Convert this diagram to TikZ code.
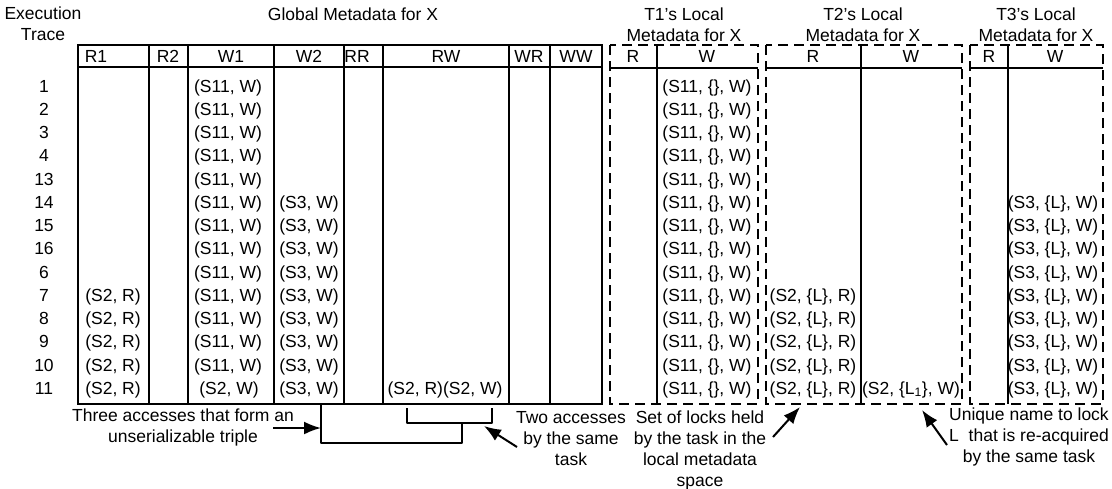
\documentclass[tikz,border=0pt]{standalone}
\usepackage{fontspec}
\setmainfont{Liberation Sans}
\usetikzlibrary{arrows.meta}

\begin{document}
\begin{tikzpicture}[x=1pt,y=-1pt,
    txt/.style={inner sep=0pt,font=\fontsize{17.5}{21}\selectfont,align=center},
    gras/.style={line width=2.4pt},
    fin/.style={line width=1.3pt},
    tiret/.style={line width=2.8pt,dash pattern=on 10pt off 6pt},
    fleche/.style={line width=2pt,-{Latex[length=17pt,width=13pt]}},
    crochet/.style={line width=2pt,line join=round}]
\useasboundingbox (0,0) rectangle (1112,488);

% Titres
\node[txt] (trace) at (43,24) {Execution\\Trace};
\node[txt] (globale) at (353,14) {Global Metadata for X};
\node[txt] (locT1) at (684,25) {T1's Local\\Metadata for X};
\node[txt] (locT2) at (863,25) {T2's Local\\Metadata for X};
\node[txt] (locT3) at (1036,25) {T3's Local\\Metadata for X};

% Tableau global
\draw[gras] (78,45) rectangle (602,404);
\draw[gras] (78,67) -- (602,67);
\foreach \x in {149,188,274,344,383,509,550} {
    \draw[fin] (\x,45) -- (\x,404);
}

% Tableaux locaux (pointilles)
\draw[tiret] (610,45) rectangle (758,404);
\draw[tiret] (766,45) rectangle (962,404);
\draw[tiret] (970,45) rectangle (1103,404);
\draw[gras] (610,68) -- (758,68);
\draw[gras] (766,68) -- (962,68);
\draw[gras] (970,68) -- (1103,68);
\foreach \x in {657,861,1008} {
    \draw[fin] (\x,45) -- (\x,404);
}

% En-tetes des colonnes
\foreach \x/\t [count=\k] in {96/R1,168/R2,231/W1,309/W2,357/RR,446/RW,529/WR,576/WW,
                              633/R,707/W,813/R,911/W,989/R,1055/W} {
    \node[txt,anchor=base] (tete\k) at (\x,62) {\t};
}

% Lignes de la trace
\foreach \lab [count=\i] in {1,2,3,4,13,14,15,16,6,7,8,9,10,11} {
    \node[txt,anchor=base] (ligne\i) at (44,{92+(\i-1)*23.25}) {\lab};
}

% Contenu des cases
\foreach \i in {1,...,13} {
    \node[txt,anchor=base] (wa\i) at (228,{92+(\i-1)*23.25}) {(S11, W)};
}
\node[txt,anchor=base] (wa14) at (229,{92+13*23.25}) {(S2, W)};
\foreach \i in {6,...,14} {
    \node[txt,anchor=base] (wb\i) at (309,{92+(\i-1)*23.25}) {(S3, W)};
    \node[txt,anchor=base] (tcW\i) at (1053,{92+(\i-1)*23.25}) {(S3, \{L\}, W)};
}
\foreach \i in {10,...,14} {
    \node[txt,anchor=base] (ra\i) at (113,{92+(\i-1)*23.25}) {(S2, R)};
    \node[txt,anchor=base] (tbR\i) at (813,{92+(\i-1)*23.25}) {(S2, \{L\}, R)};
}
\foreach \i in {1,...,14} {
    \node[txt,anchor=base] (taW\i) at (707,{92+(\i-1)*23.25}) {(S11, \{\}, W)};
}
\node[txt,anchor=base] (rw14) at (445,{92+13*23.25}) {(S2, R)(S2, W)};
\node[txt,anchor=base] (tbW14) at (911,{92+13*23.25}) {(S2, \{L\textsubscript{1}\}, W)};

% Crochets
\coordinate (grandA) at (321,405);
\coordinate (grandB) at (321,443);
\coordinate (grandC) at (462,443);
\coordinate (grandD) at (462,423);
\coordinate (petitA) at (407,408);
\coordinate (petitB) at (407,423);
\coordinate (petitC) at (492,423);
\coordinate (petitD) at (492,408);
\draw[crochet] (grandA) -- (grandB) -- (grandC) -- (grandD);
\draw[crochet] (petitA) -- (petitB) -- (petitC) -- (petitD);

% Annotations
\node[txt] (triple) at (183,427) {Three accesses that form an\\unserializable triple};
\node[txt] (deux) at (571,439) {Two accesses\\by the same\\task};
\node[txt] (verrous) at (700,450) {Set of locks held\\by the task in the\\local metadata\\space};
\node[txt] (unique) at (1029,437) {Unique name to lock\\L\ \ that is re-acquired\\by the same task};

\coordinate (flA) at (273,428);
\coordinate (flB) at (517,447);
\coordinate (flC) at (773,437);
\coordinate (flD) at (947,445);
\coordinate (cibleC) at (800,407);
\coordinate (cibleD) at (922,410);
\coordinate (cibleB) at (484,426);
\draw[fleche] (flA) -- (grandA |- flA);
\draw[fleche] (flB) -- (cibleB);
\draw[fleche] (flC) -- (cibleC);
\draw[fleche] (flD) -- (cibleD);
\end{tikzpicture}
\end{document}
